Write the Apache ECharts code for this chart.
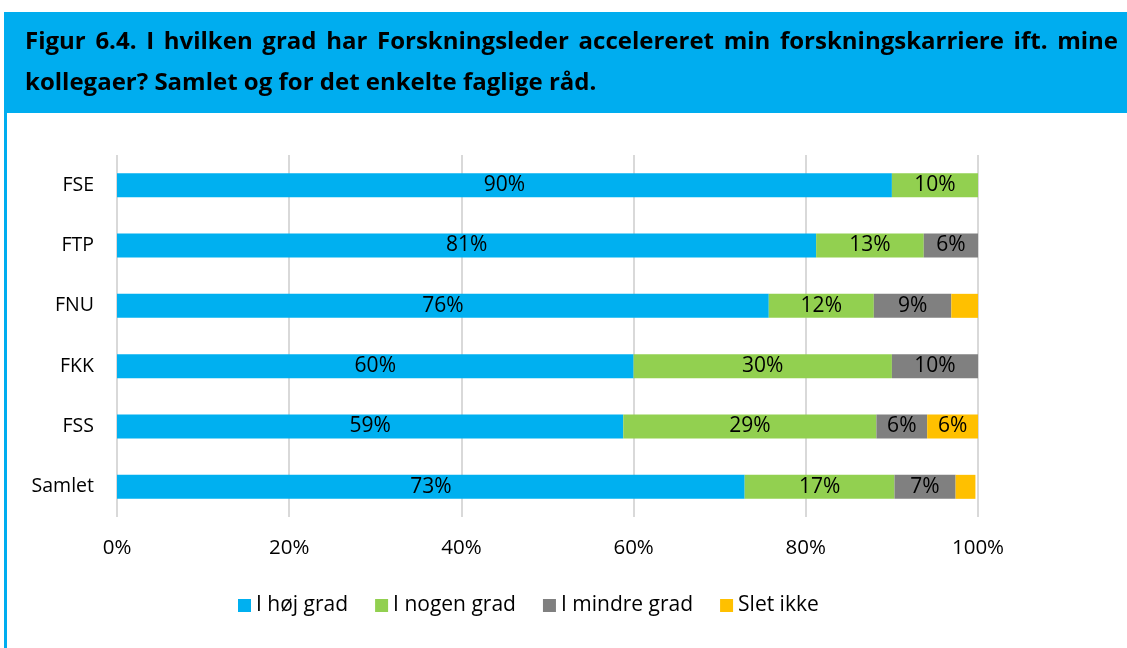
<!DOCTYPE html>
<html lang="da" style="height: 100%">
<head>
    <meta charset="utf-8">
    <title>Figur 6.4</title>
    <script src="https://cdn.jsdelivr.net/npm/echarts@6.0.0/dist/echarts.min.js"></script>
    <style>
        html, body { margin: 0; padding: 0; background: #fff; }
        #chart { width: 1127px; height: 648px; }
    </style>
</head>
<body>
<div id="chart"></div>
<script type="text/javascript">
    // data (percent)
    var categories = ['FSE', 'FTP', 'FNU', 'FKK', 'FSS', 'Samlet'];
    var seriesNames = ['I høj grad', 'I nogen grad', 'I mindre grad', 'Slet ikke'];
    var hoejGrad   = [90, 81.2, 75.7, 60, 58.8, 72.9];
    var nogenGrad  = [10, 12.5, 12.2, 30, 29.4, 17.4];
    var mindreGrad = [0, 6.3, 9.0, 10, 5.9, 7.1];
    var sletIkke   = [0, 0, 3.1, 0, 5.9, 2.3];
    var xTicks = [0, 20, 40, 60, 80, 100];

    var titleLine1 = 'Figur 6.4. I hvilken grad har Forskningsleder accelereret min forskningskarriere ift. mine';
    var titleLine2 = 'kollegaer? Samlet og for det enkelte faglige råd.';

    var colors = ['#00B0F0', '#92D050', '#808080', '#FFC000'];
    var font = '"Open Sans", sans-serif';
    var titleFont = 'bold 24px ' + font;

    var myChart = echarts.init(document.getElementById('chart'), null, { renderer: 'canvas' });

    // first title line is justified in the original: spread the words between x0 and x1
    function justifiedWords(text, x0, x1, y) {
        var ctx = document.createElement('canvas').getContext('2d');
        ctx.font = titleFont;
        var words = text.split(' ');
        var widths = words.map(function (w) { return ctx.measureText(w).width; });
        var total = widths.reduce(function (a, b) { return a + b; }, 0);
        var gap = (x1 - x0 - total) / (words.length - 1);
        var x = x0;
        return words.map(function (w, i) {
            var el = {
                type: 'text', x: x, y: y,
                style: { text: w, fill: '#000', font: titleFont, verticalAlign: 'middle' }
            };
            x += widths[i] + gap;
            return el;
        });
    }

    function makeSeries(name, values, color) {
        return {
            name: name,
            type: 'bar',
            stack: 'total',
            barWidth: 24,
            data: values,
            itemStyle: { color: color },
            label: {
                show: true,
                position: 'inside',
                color: '#000',
                fontFamily: font,
                fontSize: 21,
                formatter: function (p) {
                    // small segments carry no label in the original
                    return p.value >= 5 ? Math.round(p.value) + '%' : '';
                }
            }
        };
    }

    var graphics = [
        { type: 'rect', shape: { x: 4, y: 12, width: 1123, height: 101 }, style: { fill: '#00ADEF' } },
        { type: 'rect', shape: { x: 4, y: 12, width: 3, height: 636 }, style: { fill: '#00ADEF' } },
        {
            type: 'text', x: 25, y: 83,
            style: { text: titleLine2, fill: '#000', font: titleFont, verticalAlign: 'middle' }
        }
    ].concat(justifiedWords(titleLine1, 25, 1118, 42));

    var option = {
        backgroundColor: '#fff',
        animation: false,
        graphic: graphics,
        legend: {
            left: 233,
            top: 590,
            itemWidth: 13,
            itemHeight: 13,
            itemGap: 27,
            icon: 'rect',
            textStyle: { fontFamily: font, fontSize: 21, color: '#000' },
            data: seriesNames
        },
        grid: { left: 117, right: 149, top: 155, bottom: 131, containLabel: false },
        xAxis: {
            type: 'value',
            min: xTicks[0],
            max: xTicks[xTicks.length - 1],
            interval: 20,
            axisLine: { show: false },
            axisTick: { show: false },
            splitLine: { show: true, lineStyle: { color: '#D9D9D9', width: 2 } },
            axisLabel: {
                margin: 21,
                fontFamily: font,
                fontSize: 20.5,
                color: '#000',
                formatter: '{value}%'
            }
        },
        yAxis: {
            type: 'category',
            inverse: true,
            data: categories,
            axisLine: { show: false },
            axisTick: { show: false },
            axisLabel: { margin: 23, fontFamily: font, fontSize: 19.5, color: '#000' }
        },
        series: [
            makeSeries(seriesNames[0], hoejGrad, colors[0]),
            makeSeries(seriesNames[1], nogenGrad, colors[1]),
            makeSeries(seriesNames[2], mindreGrad, colors[2]),
            makeSeries(seriesNames[3], sletIkke, colors[3])
        ]
    };

    myChart.setOption(option);
</script>
</body>
</html>
